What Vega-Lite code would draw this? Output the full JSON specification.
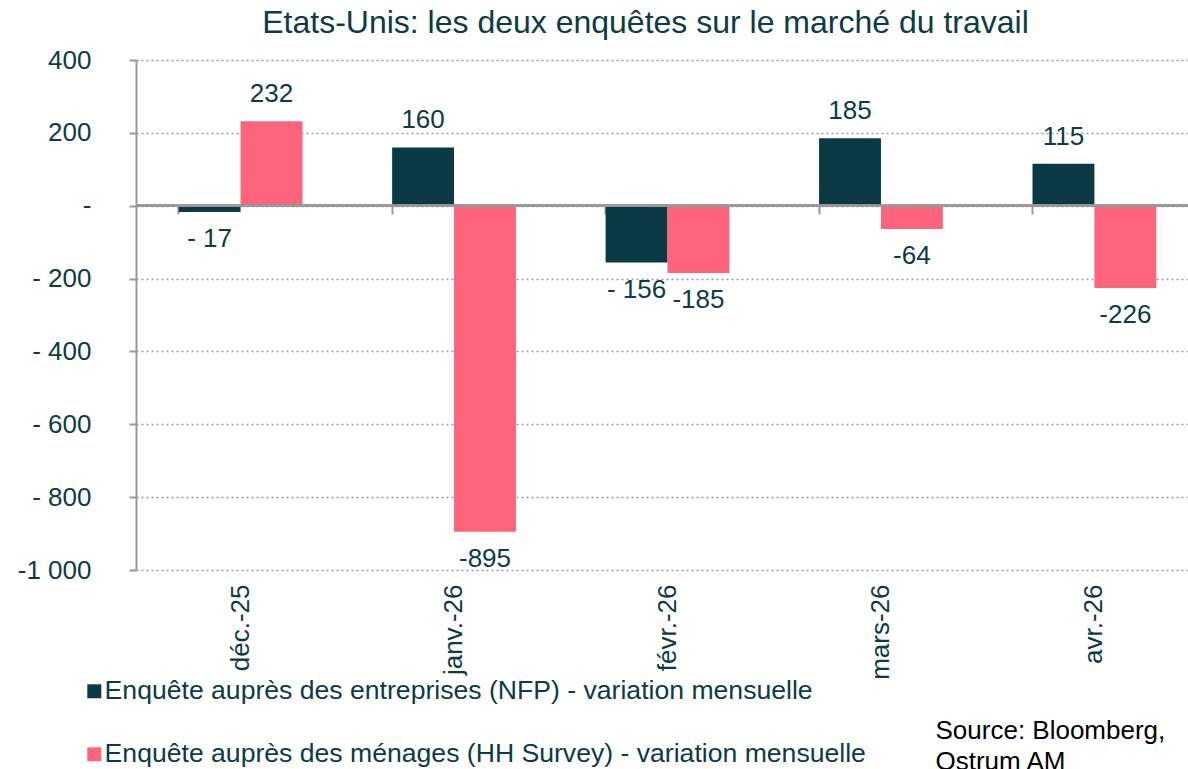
{
  "$schema": "https://vega.github.io/schema/vega-lite/v6.json",
  "autosize": {"type": "none"},
  "padding": {"left": 136, "top": 60, "right": 0, "bottom": 199},
  "width": 1063,
  "height": 510,
  "background": "white",
  "config": {
    "font": "Liberation Sans",
    "view": {"stroke": null}
  },
  "title": {
    "text": "Etats-Unis: les deux enquêtes sur le marché du travail",
    "fontSize": 32,
    "fontWeight": "normal",
    "color": "#0b3c44",
    "font": "Liberation Sans",
    "anchor": "middle",
    "dx": -22,
    "offset": 7
  },
  "resolve": {"axis": {"x": "independent"}},
  "data": {
    "values": [
      {"mois": "déc.-25", "serie": "Enquête auprès des entreprises (NFP) - variation mensuelle", "valeur": -17, "etiquette": "- 17"},
      {"mois": "déc.-25", "serie": "Enquête auprès des ménages (HH Survey) - variation mensuelle", "valeur": 232, "etiquette": "232"},
      {"mois": "janv.-26", "serie": "Enquête auprès des entreprises (NFP) - variation mensuelle", "valeur": 160, "etiquette": "160"},
      {"mois": "janv.-26", "serie": "Enquête auprès des ménages (HH Survey) - variation mensuelle", "valeur": -895, "etiquette": "-895"},
      {"mois": "févr.-26", "serie": "Enquête auprès des entreprises (NFP) - variation mensuelle", "valeur": -156, "etiquette": "- 156"},
      {"mois": "févr.-26", "serie": "Enquête auprès des ménages (HH Survey) - variation mensuelle", "valeur": -185, "etiquette": "-185"},
      {"mois": "mars-26", "serie": "Enquête auprès des entreprises (NFP) - variation mensuelle", "valeur": 185, "etiquette": "185"},
      {"mois": "mars-26", "serie": "Enquête auprès des ménages (HH Survey) - variation mensuelle", "valeur": -64, "etiquette": "-64"},
      {"mois": "avr.-26", "serie": "Enquête auprès des entreprises (NFP) - variation mensuelle", "valeur": 115, "etiquette": "115"},
      {"mois": "avr.-26", "serie": "Enquête auprès des ménages (HH Survey) - variation mensuelle", "valeur": -226, "etiquette": "-226"}
    ]
  },
  "encoding": {
    "xOffset": {
      "field": "serie",
      "type": "nominal",
      "sort": ["Enquête auprès des entreprises (NFP) - variation mensuelle", "Enquête auprès des ménages (HH Survey) - variation mensuelle"]
    },
    "y": {
      "field": "valeur",
      "type": "quantitative",
      "scale": {"domain": [-1000, 400], "nice": false, "zero": false},
      "axis": {
        "values": [-1000, -800, -600, -400, -200, 0, 200, 400],
        "labelExpr": "datum.value == 0 ? '-' : (datum.value == -1000 ? '-1 000' : (datum.value < 0 ? '- ' + (-datum.value) : '' + datum.value))",
        "labelFontSize": 26,
        "labelColor": "#0b3c44",
        "labelPadding": 38,
        "domain": true,
        "domainColor": "#999999",
        "domainWidth": 2,
        "ticks": true,
        "tickColor": "#999999",
        "tickSize": 7,
        "tickWidth": 2,
        "grid": true,
        "gridColor": "#999999",
        "gridDash": [2, 3],
        "gridWidth": 1.5,
        "title": null
      }
    }
  },
  "layer": [
    {
      "mark": {"type": "bar"},
      "encoding": {
        "x": {
          "field": "mois",
          "type": "nominal",
          "sort": ["déc.-25", "janv.-26", "févr.-26", "mars-26", "avr.-26"],
          "scale": {"paddingInner": 0.42},
          "axis": {
            "labelAngle": -90,
            "labelFontSize": 26,
            "labelColor": "#0b3c44",
            "labelPadding": 14,
            "domain": false,
            "ticks": false,
            "grid": false,
            "title": ["Source: Bloomberg,", "Ostrum AM"],
            "titleColor": "#000000",
            "titleFontSize": 26,
            "titleFontWeight": "normal",
            "titleAlign": "left",
            "titleAnchor": "start",
            "titleBaseline": "alphabetic",
            "titleX": 799,
            "titleY": 168,
            "titleLineHeight": 31
          }
        },
        "color": {
          "field": "serie",
          "type": "nominal",
          "sort": ["Enquête auprès des entreprises (NFP) - variation mensuelle", "Enquête auprès des ménages (HH Survey) - variation mensuelle"],
          "scale": {"range": ["#0a3b45", "#ff647d"]},
          "legend": {
            "orient": "none",
            "legendX": -55,
            "legendY": 618,
            "direction": "vertical",
            "title": null,
            "symbolType": "square",
            "symbolSize": 196,
            "symbolStrokeWidth": 0,
            "labelFontSize": 26.6,
            "labelColor": "#0b3c44",
            "labelLimit": 0,
            "labelOffset": -3,
            "rowPadding": 36,
            "padding": 0
          }
        }
      }
    },
    {
      "mark": {"type": "rule", "color": "#999999", "strokeWidth": 2},
      "encoding": {"y": {"datum": 0}, "xOffset": null}
    },
    {
      "transform": [{"filter": "datum.valeur >= 0"}],
      "mark": {"type": "text", "fontSize": 26, "color": "#0b3c44", "baseline": "middle", "dy": -27},
      "encoding": {
        "x": {
          "field": "mois",
          "type": "nominal",
          "sort": ["déc.-25", "janv.-26", "févr.-26", "mars-26", "avr.-26"],
          "axis": {
            "orient": "bottom",
            "offset": -364,
            "labels": false,
            "domain": false,
            "grid": false,
            "ticks": true,
            "bandPosition": 0,
            "tickColor": "#999999",
            "tickWidth": 2,
            "tickSize": 8,
            "title": null
          }
        },
        "text": {"field": "etiquette"}
      }
    },
    {
      "transform": [{"filter": "datum.valeur < 0"}],
      "mark": {"type": "text", "fontSize": 26, "color": "#0b3c44", "baseline": "middle", "dy": 27},
      "encoding": {
        "x": {
          "field": "mois",
          "type": "nominal",
          "sort": ["déc.-25", "janv.-26", "févr.-26", "mars-26", "avr.-26"],
          "axis": null
        },
        "text": {"field": "etiquette"}
      }
    }
  ]
}
